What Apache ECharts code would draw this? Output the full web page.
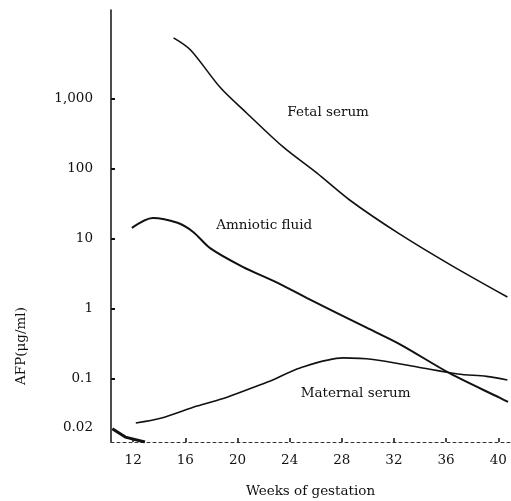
<!DOCTYPE html>
<html>
<head>
<meta charset="utf-8">
<script src="https://cdn.jsdelivr.net/npm/echarts@6/dist/echarts.min.js"></script>
<style>
  html, body { margin: 0; padding: 0; background: #fff; }
  #chart { width: 511px; height: 501px; }
</style>
</head>
<body>
<div id="chart"></div>
<script>
  // 数据（从图上读出来的）
  const fetalWeeks = [15.1, 16.4, 18.7, 20.7, 23.5, 26.1, 28.6, 32.3, 36.3, 40.7];
  const fetalAFP = [7450, 5000, 1440, 630, 206, 87, 36, 12.2, 4.3, 1.48];

  const amnioticWeeks = [11.9, 13.5, 15.4, 16.6, 17.9, 20.4, 23.0, 25.3, 29.9, 32.5, 36.3, 40.1, 40.75];
  const amnioticAFP = [14.4, 20, 17, 12.6, 7.4, 4.0, 2.4, 1.44, 0.54, 0.31, 0.12, 0.054, 0.047];

  const maternalWeeks = [12.2, 14.1, 16.9, 19.2, 21.7, 22.7, 24.8, 28.1, 30.4, 33.8, 36.9, 39.1, 40.7];
  const maternalAFP = [0.0235, 0.0274, 0.041, 0.055, 0.082, 0.097, 0.144, 0.20, 0.19, 0.148, 0.118, 0.109, 0.097];

  // 左下角那一小段
  const cornerWeeks = [10.4, 11.4, 12.9];
  const cornerAFP = [0.0195, 0.0148, 0.0126];

  const xTicks = [12, 16, 20, 24, 28, 32, 36, 40];
  const yTickValues = [0.02, 0.1, 1, 10, 100, 1000];
  const yTickLabels = ['0.02', '0.1', '1', '10', '100', '1,000'];

  // 曲线上的文字
  const noteNames = ['Fetal serum', 'Amniotic fluid', 'Maternal serum'];
  const noteWeeks = [26.95, 22.05, 29.06];
  const noteAFP = [630, 15.8, 0.063];

  const toPairs = (xs, ys) => xs.map((x, i) => [x, Math.log10(ys[i])]);
  const yLogTicks = yTickValues.map(v => Math.log10(v));

  const serif = 'DejaVu Serif';
  const ink = '#111';

  let chart = echarts.init(document.getElementById('chart'));
  chart.setOption({
    backgroundColor: '#fff',
    animation: false,
    grid: {
      left: 111, right: 1, top: 10, bottom: 59,
      containLabel: false,
      outerBoundsMode: 'none'
    },
    xAxis: {
      type: 'value',
      min: 10.3,
      max: 40.9,
      name: 'Weeks of gestation',
      nameLocation: 'middle',
      nameGap: 42,
      nameTextStyle: { fontFamily: serif, fontSize: 13.5, color: ink },
      splitLine: { show: false },
      axisLine: { show: true, onZero: false, lineStyle: { color: '#333', width: 1, type: [3, 3] } },
      axisTick: { show: true, inside: true, length: 4, customValues: xTicks, lineStyle: { color: ink, width: 1.5 } },
      axisLabel: {
        customValues: xTicks,
        margin: 11,
        fontFamily: serif, fontSize: 13.5, color: ink
      }
    },
    yAxis: {
      type: 'value',
      min: -1.9,
      max: 4.27,
      splitLine: { show: false },
      axisLine: { show: true, onZero: false, lineStyle: { color: ink, width: 1.5 } },
      axisTick: { show: true, inside: true, length: 4, customValues: yLogTicks.slice(1), lineStyle: { color: ink, width: 2 } },
      axisLabel: {
        customValues: yLogTicks,
        margin: 18,
        fontFamily: serif, fontSize: 13.5, color: ink,
        formatter: function (val) {
          for (let i = 0; i < yLogTicks.length; i++) {
            if (Math.abs(yLogTicks[i] - val) < 1e-6) return yTickLabels[i];
          }
          return '';
        }
      }
    },
    graphic: [{
      type: 'text',
      x: 21,
      y: 346,
      rotation: Math.PI / 2,
      style: {
        text: 'AFP(μg/ml)',
        fontFamily: serif,
        fontSize: 13.5,
        fill: ink,
        align: 'center',
        verticalAlign: 'middle'
      }
    }],
    series: [
      {
        name: 'Fetal serum',
        type: 'line',
        smooth: 0.3,
        symbol: 'none',
        lineStyle: { color: ink, width: 1.6 },
        data: toPairs(fetalWeeks, fetalAFP)
      },
      {
        name: 'Amniotic fluid',
        type: 'line',
        smooth: 0.3,
        symbol: 'none',
        lineStyle: { color: ink, width: 2 },
        data: toPairs(amnioticWeeks, amnioticAFP)
      },
      {
        name: 'Maternal serum',
        type: 'line',
        smooth: 0.3,
        symbol: 'none',
        lineStyle: { color: ink, width: 1.6 },
        data: toPairs(maternalWeeks, maternalAFP)
      },
      {
        name: 'corner',
        type: 'line',
        symbol: 'none',
        lineStyle: { color: ink, width: 3 },
        data: toPairs(cornerWeeks, cornerAFP)
      },
      {
        name: 'notes',
        type: 'scatter',
        symbolSize: 0,
        silent: true,
        itemStyle: { opacity: 1 },
        label: {
          show: true,
          position: 'inside',
          fontFamily: serif,
          fontSize: 13.5,
          color: ink,
          opacity: 1,
          textBorderWidth: 0,
          formatter: function (p) { return noteNames[p.dataIndex]; }
        },
        data: toPairs(noteWeeks, noteAFP)
      }
    ]
  });
</script>
</body>
</html>
